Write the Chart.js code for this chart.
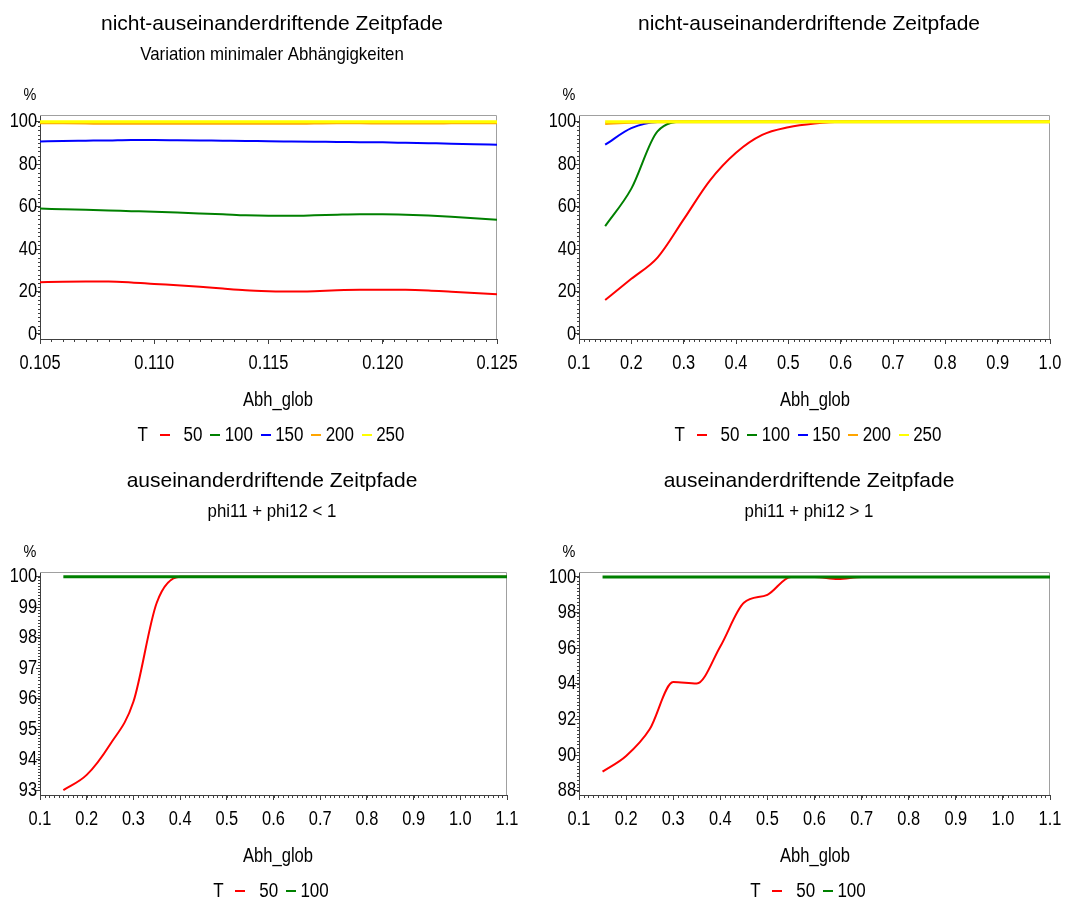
<!DOCTYPE html>
<html>
<head>
<meta charset="utf-8">
<script src="https://cdn.jsdelivr.net/npm/chart.js@4.4.1/dist/chart.umd.min.js"></script>
<style>
  html, body { margin: 0; padding: 0; background: #fff; }
  #wrap { position: relative; width: 1075px; height: 902px; }
  canvas { position: absolute; }
</style>
</head>
<body>
<div id="wrap">
  <canvas id="c1" width="537" height="451" style="left:0;top:0"></canvas>
  <canvas id="c2" width="538" height="451" style="left:537px;top:0"></canvas>
  <canvas id="c3" width="537" height="451" style="left:0;top:451px"></canvas>
  <canvas id="c4" width="538" height="451" style="left:537px;top:451px"></canvas>
</div>
<script>
// T values and line colours
const labelsT = ['50', '100', '150', '200', '250'];
const colorsT = ['#ff0000', '#008000', '#0000ff', '#ffa500', '#ffff00'];

// top left: small Abh_glob range
const abhFine = [0.105, 0.106, 0.107, 0.108, 0.109, 0.110, 0.111, 0.112, 0.113, 0.114, 0.115,
                 0.116, 0.117, 0.118, 0.119, 0.120, 0.121, 0.122, 0.123, 0.124, 0.125];
const fineT50  = [24.4, 24.6, 24.7, 24.7, 24.3, 23.6, 23.0, 22.3, 21.4, 20.6, 20.2, 20.0, 20.2, 20.6, 20.8, 20.8, 20.8, 20.5, 19.9, 19.3, 18.7];
const fineT100 = [59.1, 58.8, 58.5, 58.2, 57.9, 57.6, 57.2, 56.8, 56.4, 55.9, 55.7, 55.7, 55.9, 56.2, 56.4, 56.4, 56.2, 55.8, 55.2, 54.5, 53.8];
const fineT150 = [90.7, 91.0, 91.1, 91.2, 91.4, 91.4, 91.3, 91.2, 91.1, 91.0, 90.8, 90.7, 90.6, 90.5, 90.4, 90.3, 90.1, 89.9, 89.7, 89.4, 89.2];
const fineT200 = [99.6, 99.5, 99.4, 99.3, 99.3, 99.3, 99.3, 99.3, 99.3, 99.3, 99.3, 99.3, 99.4, 99.5, 99.5, 99.4, 99.4, 99.4, 99.5, 99.6, 99.6];
const fineT250 = [100, 100, 100, 100, 100, 100, 100, 100, 100, 100, 100, 100, 100, 100, 100, 100, 100, 100, 100, 100, 100];

// top right: wide Abh_glob range
const abhWide = [0.15, 0.20, 0.25, 0.30, 0.35, 0.40, 0.45, 0.50, 0.55, 0.60, 0.65, 0.70, 0.75, 0.80, 0.85, 0.90, 0.95, 1.00];
const wideT50  = [16.0, 26.0, 36.0, 54.0, 72.3, 85.4, 93.8, 97.4, 99.2, 100, 100, 100, 100, 100, 100, 100, 100, 100];
const wideT100 = [50.8, 68.5, 95.5, 100, 100, 100, 100, 100, 100, 100, 100, 100, 100, 100, 100, 100, 100, 100];
const wideT150 = [89.2, 97.0, 99.9, 100, 100, 100, 100, 100, 100, 100, 100, 100, 100, 100, 100, 100, 100, 100];
const wideT200 = [99.2, 99.8, 100, 100, 100, 100, 100, 100, 100, 100, 100, 100, 100, 100, 100, 100, 100, 100];
const wideT250 = [100, 100, 100, 100, 100, 100, 100, 100, 100, 100, 100, 100, 100, 100, 100, 100, 100, 100];

// bottom: drifting paths
const abhLong = [0.15, 0.20, 0.25, 0.30, 0.35, 0.40, 0.45, 0.50, 0.55, 0.60,
                 0.65, 0.70, 0.75, 0.80, 0.85, 0.90, 0.95, 1.00, 1.05, 1.10];
const lowT50  = [93.0, 93.5, 94.5, 95.9, 99.15, 100, 100, 100, 100, 100, 100, 100, 100, 100, 100, 100, 100, 100, 100, 100];
const lowT100 = [100, 100, 100, 100, 100, 100, 100, 100, 100, 100, 100, 100, 100, 100, 100, 100, 100, 100, 100, 100];
const highT50  = [89.07, 89.95, 91.45, 94.1, 94.02, 96.1, 98.55, 99.0, 100, 100, 99.88, 100, 100, 100, 100, 100, 100, 100, 100, 100];
const highT100 = [100, 100, 100, 100, 100, 100, 100, 100, 100, 100, 100, 100, 100, 100, 100, 100, 100, 100, 100, 100];

// axis ticks
const fineXTicks = [0.105, 0.110, 0.115, 0.120, 0.125];
const wideXTicks = [0.1, 0.2, 0.3, 0.4, 0.5, 0.6, 0.7, 0.8, 0.9, 1.0];
const longXTicks = [0.1, 0.2, 0.3, 0.4, 0.5, 0.6, 0.7, 0.8, 0.9, 1.0, 1.1];
const pctTicks = [0, 20, 40, 60, 80, 100];
const lowYTicks = [93, 94, 95, 96, 97, 98, 99, 100];
const highYTicks = [88, 90, 92, 94, 96, 98, 100];

const sans = "'Liberation Sans', Arial, sans-serif";
const axisColor = '#404040';
const frameColor = '#a0a0a0';

function toPoints(xs, ys) {
  return xs.map((x, i) => ({ x: x, y: ys[i] }));
}

function makeDatasets(xs, series, widths) {
  return series.map((ys, i) => ({
    label: labelsT[i],
    data: toPoints(xs, ys),
    borderColor: colorsT[i],
    backgroundColor: colorsT[i],
    borderWidth: widths[i],
    pointRadius: 0,
    cubicInterpolationMode: 'monotone',
    order: -i // later T values sit on top
  }));
}

// text squeezed sideways, like a narrow Arial
function narrowText(ctx, text, x, y, size, squeeze, align) {
  ctx.save();
  ctx.translate(x, y);
  ctx.scale(squeeze, 1);
  ctx.font = size + 'px ' + sans;
  ctx.textAlign = align;
  ctx.textBaseline = 'middle';
  ctx.fillText(text, 0, 0);
  ctx.restore();
}

// top and right frame lines, minor ticks, tick labels, titles and the T legend
function panelPlugin(cfg) {
  return {
    id: 'panel',
    beforeDatasetsDraw(chart) {
      const ctx = chart.ctx;
      const a = chart.chartArea;
      ctx.save();
      ctx.strokeStyle = frameColor;
      ctx.lineWidth = 1;
      ctx.beginPath();
      ctx.moveTo(a.left, a.top + 0.5);
      ctx.lineTo(a.right - 0.5, a.top + 0.5);
      ctx.lineTo(a.right - 0.5, a.bottom);
      ctx.stroke();

      // minor ticks
      ctx.strokeStyle = axisColor;
      ctx.beginPath();
      const xs = chart.scales.x, ys = chart.scales.y;
      const nx = Math.round((cfg.xMax - cfg.xTicks[0]) / cfg.xMinor);
      for (let i = 0; i <= nx; i++) {
        const px = Math.round(xs.getPixelForValue(cfg.xTicks[0] + i * cfg.xMinor)) + 0.5;
        ctx.moveTo(px, a.bottom);
        ctx.lineTo(px, a.bottom + 3);
      }
      const y0 = cfg.yTicks[0];
      const ny = Math.round((cfg.yTicks[cfg.yTicks.length - 1] - y0) / cfg.yMinor);
      for (let i = 0; i <= ny; i++) {
        const py = Math.round(ys.getPixelForValue(y0 + i * cfg.yMinor)) + 0.5;
        ctx.moveTo(a.left, py);
        ctx.lineTo(a.left - 2, py);
      }
      ctx.stroke();
      ctx.restore();
    },
    afterDraw(chart) {
      const ctx = chart.ctx;
      const a = chart.chartArea;
      const xs = chart.scales.x, ys = chart.scales.y;
      const cx = 272;
      ctx.save();
      ctx.fillStyle = '#000';

      // tick labels from the scales
      xs.ticks.forEach(t => narrowText(ctx, t.label, xs.getPixelForValue(t.value), a.bottom + 24, 20, 0.82, 'center'));
      ys.ticks.forEach(t => narrowText(ctx, t.label, a.left - 3, ys.getPixelForValue(t.value), 20, 0.82, 'right'));

      ctx.textAlign = 'center';
      ctx.textBaseline = 'middle';
      ctx.font = '21px ' + sans;
      ctx.fillText(cfg.title, cx, a.top - 91);
      if (cfg.subtitle) {
        narrowText(ctx, cfg.subtitle, cx, a.top - 60, 18.5, 0.91, 'center');
      }

      narrowText(ctx, '%', a.left - 10, a.top - 20, 17, 0.85, 'center');
      narrowText(ctx, 'Abh_glob', cx + 6, a.bottom + 62, 19.5, 0.85, 'center');

      // legend: T, then a short dash and the value for every line
      const ly = a.bottom + 96;
      const sets = chart.data.datasets;
      const pitch = 50.5;
      const tW = 10;
      const total = tW + 12 + (sets.length - 1) * pitch + 43;
      const x0 = cx - 1 - total / 2;
      narrowText(ctx, 'T', x0, ly, 20, 0.85, 'left');
      sets.forEach((ds, i) => {
        const dx = x0 + tW + 12 + i * pitch;
        ctx.fillStyle = ds.borderColor;
        ctx.fillRect(Math.round(dx), ly - 1, 10, 2);
        ctx.fillStyle = '#000';
        narrowText(ctx, ds.label, dx + 43, ly, 20, 0.85, 'right');
      });
      ctx.restore();
    }
  };
}

function makeChart(id, cfg) {
  const canvas = document.getElementById(id);
  const W = canvas.width, H = canvas.height;
  return new Chart(canvas, {
    type: 'line',
    data: { datasets: makeDatasets(cfg.x, cfg.series, cfg.widths) },
    options: {
      responsive: false,
      animation: false,
      devicePixelRatio: 1,
      layout: { padding: { left: 0, top: cfg.area.top, right: W - cfg.area.right, bottom: 0 } },
      plugins: { legend: { display: false }, tooltip: { enabled: false } },
      scales: {
        x: {
          type: 'linear',
          min: cfg.xMin,
          max: cfg.xMax,
          bounds: 'data',
          afterBuildTicks: s => { s.ticks = cfg.xTicks.map(v => ({ value: v })); },
          afterFit: s => { s.height = H - cfg.area.bottom; s.paddingLeft = 0; s.paddingRight = 0; },
          grid: { drawOnChartArea: false, tickLength: 5, tickColor: axisColor },
          border: { color: axisColor, width: 1 },
          ticks: { display: false, callback: v => v.toFixed(cfg.xDigits) }
        },
        y: {
          type: 'linear',
          min: cfg.yMin,
          max: cfg.yMax,
          bounds: 'data',
          afterBuildTicks: s => { s.ticks = cfg.yTicks.map(v => ({ value: v })); },
          afterFit: s => { s.width = cfg.area.left; s.paddingTop = 0; s.paddingBottom = 0; },
          grid: { drawOnChartArea: false, tickLength: 4, tickColor: axisColor },
          border: { color: axisColor, width: 1 },
          ticks: { display: false, callback: v => String(v) }
        }
      }
    },
    plugins: [panelPlugin(cfg)]
  });
}

makeChart('c1', {
  title: 'nicht-auseinanderdriftende Zeitpfade',
  subtitle: 'Variation minimaler Abhängigkeiten',
  x: abhFine,
  series: [fineT50, fineT100, fineT150, fineT200, fineT250],
  widths: [2, 2, 2, 3, 3],
  xMin: 0.105, xMax: 0.125, xTicks: fineXTicks, xDigits: 3, xMinor: 0.0005,
  yMin: -2.36, yMax: 103.2, yTicks: pctTicks, yMinor: 2,
  area: { left: 40, right: 497, top: 115, bottom: 339 }
});

makeChart('c2', {
  title: 'nicht-auseinanderdriftende Zeitpfade',
  x: abhWide,
  series: [wideT50, wideT100, wideT150, wideT200, wideT250],
  widths: [2, 2, 2, 3, 3],
  xMin: 0.1, xMax: 1.0, xTicks: wideXTicks, xDigits: 1, xMinor: 0.01,
  yMin: -2.36, yMax: 103.2, yTicks: pctTicks, yMinor: 2,
  area: { left: 42, right: 513, top: 115, bottom: 339 }
});

makeChart('c3', {
  title: 'auseinanderdriftende Zeitpfade',
  subtitle: 'phi11 + phi12 < 1',
  x: abhLong,
  series: [lowT50, lowT100],
  widths: [2, 3],
  xMin: 0.1, xMax: 1.1, xTicks: longXTicks, xDigits: 1, xMinor: 0.01,
  yMin: 92.84, yMax: 100.16, yTicks: lowYTicks, yMinor: 0.1,
  area: { left: 40, right: 507, top: 121, bottom: 344 }
});

makeChart('c4', {
  title: 'auseinanderdriftende Zeitpfade',
  subtitle: 'phi11 + phi12 > 1',
  x: abhLong,
  series: [highT50, highT100],
  widths: [2, 3],
  xMin: 0.1, xMax: 1.1, xTicks: longXTicks, xDigits: 1, xMinor: 0.01,
  yMin: 87.76, yMax: 100.28, yTicks: highYTicks, yMinor: 0.2,
  area: { left: 42, right: 513, top: 121, bottom: 344 }
});
</script>
</body>
</html>
